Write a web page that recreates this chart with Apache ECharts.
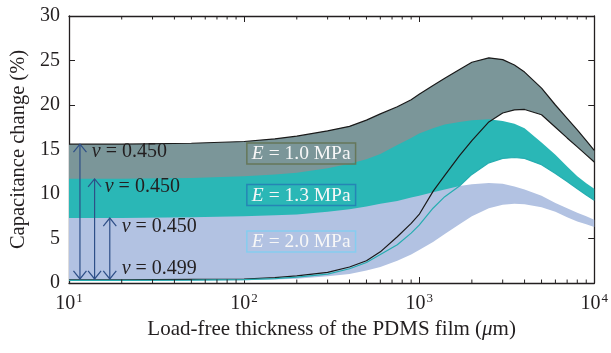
<!DOCTYPE html>
<html><head><meta charset="utf-8">
<script src="https://cdn.jsdelivr.net/npm/echarts@6/dist/echarts.min.js"></script>
<style>html,body{margin:0;padding:0;background:#fff}#c{width:611px;height:353px}</style>
</head><body><div id="c"></div>
<script>
// ---- data ----
const thickness = [10,20,50,100,150,200,300,400,500,600,750,900,1000,1200,1400,1700,2000,2500,3000,3500,4000,5000,6000,7000,8000,9000,10000];
// E = 1.0 MPa : upper (nu = 0.450) and lower (nu = 0.499)
const e10Upper = [15.6,15.6,15.7,15.9,16.2,16.5,17.1,17.6,18.3,19.0,19.8,20.6,21.2,22.2,23.0,24.0,24.8,25.3,25.1,24.5,23.7,21.9,20.0,18.5,17.2,16.0,14.9];
const e10Lower = [0.35,0.35,0.4,0.45,0.6,0.8,1.2,1.8,2.5,3.5,5.2,6.7,7.7,10.3,12.1,14.3,16.0,18.1,19.1,19.45,19.5,18.9,17.5,16.3,15.3,14.4,13.6];
// E = 1.3 MPa
const e13Upper = [11.7,11.7,11.8,12.0,12.2,12.4,12.9,13.4,13.9,14.5,15.5,16.3,16.8,17.4,17.8,18.1,18.3,18.4,18.2,17.9,17.4,15.8,14.4,13.1,12.0,11.2,10.6];
const e13Lower = [0.3,0.3,0.32,0.38,0.5,0.65,1.0,1.6,2.3,3.2,4.3,5.6,6.5,8.4,9.7,10.9,12.2,13.5,14.0,14.1,14.0,13.3,12.3,11.4,10.6,9.9,9.3];
// E = 2.0 MPa
const e20Upper = [7.3,7.3,7.4,7.5,7.6,7.7,8.0,8.3,8.6,8.9,9.2,9.6,9.8,10.2,10.5,10.9,11.1,11.25,11.15,10.85,10.5,9.8,9.0,8.4,7.9,7.5,7.1];
const e20Lower = [0.25,0.25,0.27,0.3,0.38,0.48,0.75,1.0,1.4,1.8,2.5,3.2,3.7,4.6,5.5,6.6,7.5,8.4,8.8,8.9,8.85,8.5,8.0,7.4,6.9,6.6,6.3];

const moduliLabels = ['1.0','1.3','2.0'];
const nuLabels = ['0.450','0.450','0.450','0.499'];
const yTickValues = [0,5,10,15,20,25,30];
const xDecades = [1,2,3,4];

// ---- styling ----
const FONT = '"Liberation Serif","DejaVu Serif",serif';
const INK = '#231f20';
const GRAY = '#7b9699', TEAL = '#2ab7b6', BLUE = '#b2c2e2';
const ARROW = '#2e4f87';

const rows = (lo, hi) => thickness.map((t,i)=>[t, lo[i], hi[i]]);

// filled band between two curves, drawn through the axes' scales
function band(id, lo, hi, color){
  const data = rows(lo, hi);
  return {type:'custom', name:id, data:data, silent:true, z:2, clip:true,
    encode:{x:0, y:[1,2]},
    renderItem:function(params, api){
      if (params.dataIndex !== 0) return null;
      const top = data.map(r=>api.coord([r[0], r[2]]));
      const bot = data.map(r=>api.coord([r[0], r[1]])).reverse();
      return {type:'polygon', shape:{points: top.concat(bot)}, style:{fill:color, stroke:null}};
    }};
}
function line(id, arr, color, w){
  return {type:'line', name:id, data:thickness.map((t,i)=>[t, arr[i]]), symbol:'none', smooth:false,
    lineStyle:{color:color, width:w}, silent:true, z:4};
}

const chart = echarts.init(document.getElementById('c'));
const xCommon = {type:'log', logBase:10, min:Math.pow(10,xDecades[0]), max:Math.pow(10,xDecades[xDecades.length-1]),
  splitLine:{show:false}, axisLine:{show:true, onZero:false, lineStyle:{color:INK, width:1.3}},
  axisTick:{show:true, inside:true, length:6, lineStyle:{color:INK, width:1}}};
const yCommon = {type:'value', min:yTickValues[0], max:yTickValues[yTickValues.length-1], interval:5,
  splitLine:{show:false}, axisLine:{show:true, lineStyle:{color:INK, width:1.3}},
  axisTick:{show:true, inside:true, length:6, lineStyle:{color:INK, width:1}}};

chart.setOption({
  animation:false,
  backgroundColor:'#fff',
  grid:{left:69, right:13, top:16, bottom:70, containLabel:false},
  xAxis:[
    Object.assign({}, xCommon, {position:'bottom',
      axisLabel:{margin:9, color:INK, formatter:v=>'{b|10}{s|'+Math.round(Math.log10(v))+'}',
        rich:{b:{fontFamily:FONT, fontSize:20, color:INK, lineHeight:24},
              s:{fontFamily:FONT, fontSize:13, color:INK, padding:[0,0,11,1]}}},
      name:'Load-free thickness of the PDMS film ({m|\u03bc}m)', nameLocation:'middle', nameGap:36,
      nameTextStyle:{fontFamily:FONT, fontSize:21, color:INK,
        rich:{m:{fontFamily:FONT, fontSize:21, fontStyle:'italic', color:INK}}}}),
    Object.assign({}, xCommon, {position:'top', axisLabel:{show:false}})
  ],
  yAxis:[
    Object.assign({}, yCommon, {position:'left',
      axisLabel:{margin:9, color:INK, fontFamily:FONT, fontSize:20},
      name:'Capacitance change (%)', nameLocation:'middle', nameGap:37,
      nameTextStyle:{fontFamily:FONT, fontSize:20.5, color:INK}}),
    Object.assign({}, yCommon, {position:'right', axisLabel:{show:false}})
  ],
  series:[
    band('E=1.0', e10Lower, e10Upper, GRAY),
    band('E=1.3', e13Lower, e13Upper, TEAL),
    band('E=2.0', e20Lower, e20Upper, BLUE),
    line('E=1.0 nu=0.450', e10Upper, '#1a1a1a', 1.2),
    line('E=1.0 nu=0.499', e10Lower, '#1a1a1a', 1.2),
    line('E=1.3 nu=0.499', e13Lower, '#26adb0', 1.2)
  ]
});

// ---- annotations positioned through the axes ----
const P = (x,y) => chart.convertToPixel({xAxisIndex:0, yAxisIndex:0}, [x,y]);
const g = [];
const yBot = P(10,0)[1], yTop = P(10,30)[1];
for (let d = xDecades[0]; d < xDecades[xDecades.length-1]; d++) {
  for (let k = 2; k <= 9; k++) {
    const px = P(k*Math.pow(10,d), 0)[0];
    g.push({type:'line', shape:{x1:px,y1:yBot,x2:px,y2:yBot-3.5}, style:{stroke:INK, lineWidth:1}, z:10});
    g.push({type:'line', shape:{x1:px,y1:yTop,x2:px,y2:yTop+3.5}, style:{stroke:INK, lineWidth:1}, z:10});
  }
}
const arrowX = [11.55, 14.0, 17.1];
const arrowTop = [e10Upper[0], e13Upper[0], e20Upper[0]];
const arrowBottom = 0.45;
arrowX.forEach((x,i)=>{
  const a = P(x, arrowTop[i]), b = P(x, arrowBottom);
  const st = {stroke:ARROW, lineWidth:1.2, fill:null};
  g.push({type:'line', shape:{x1:a[0],y1:a[1],x2:b[0],y2:b[1]}, style:st, z:12});
  g.push({type:'polyline', shape:{points:[[a[0]-6.5,a[1]+8],[a[0],a[1]],[a[0]+6.5,a[1]+8]]}, style:st, z:12});
  g.push({type:'polyline', shape:{points:[[b[0]-6.5,b[1]-8],[b[0],b[1]],[b[0]+6.5,b[1]-8]]}, style:st, z:12});
});
const nuPos = [[13.5,14.7],[16.0,10.8],[20.0,6.3],[20.0,1.65]];
nuLabels.forEach((t,i)=>{
  const p = P(nuPos[i][0], nuPos[i][1]);
  g.push({type:'text', x:p[0], y:p[1], z:12, style:{
    text:'{v|\u03bd} = '+t, align:'left', verticalAlign:'middle', fill:INK,
    fontFamily:FONT, fontSize:20,
    rich:{v:{fontFamily:FONT, fontSize:20, fontStyle:'italic', fill:INK}}}});
});
const ePos = [[212,14.55],[212,9.9],[212,4.66]];
const eBorder = ['#66775a','#2585b5','#86cdef'];
moduliLabels.forEach((t,i)=>{
  const p = P(ePos[i][0], ePos[i][1]);
  g.push({type:'text', x:p[0], y:p[1], z:12, style:{
    text:'{i|E} = '+t+' MPa', align:'center', verticalAlign:'middle', fill:'#f7f7f7',
    fontFamily:FONT, fontSize:19.5, borderColor:eBorder[i], borderWidth:1.5, padding:[1,5,0,5],
    rich:{i:{fontFamily:FONT, fontSize:19.5, fontStyle:'italic', fill:'#f7f7f7'}}}});
});
chart.setOption({graphic:g});
</script></body></html>
